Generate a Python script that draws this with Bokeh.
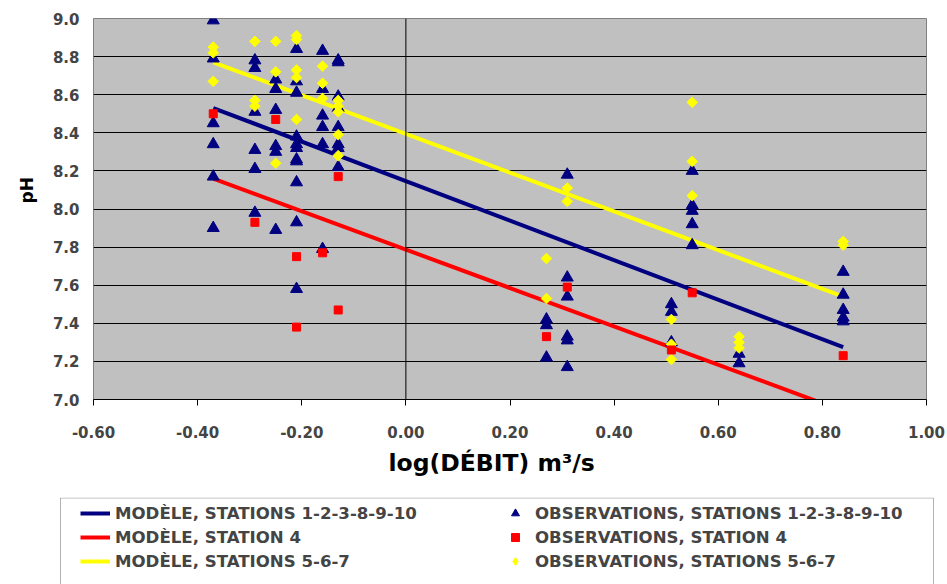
import numpy as np
from bokeh.plotting import figure
from bokeh.layouts import column
from bokeh.models import (FixedTicker, NumeralTickFormatter, Span, Legend, LegendItem,
                          BoxAnnotation, Range1d, Title)
from bokeh.embed import file_html
from bokeh.resources import INLINE

FONT = "DejaVu Sans"

# ---- axes ----
x_ticks = [-0.6, -0.4, -0.2, 0.0, 0.2, 0.4, 0.6, 0.8, 1.0]
y_ticks = [7.0, 7.2, 7.4, 7.6, 7.8, 8.0, 8.2, 8.4, 8.6, 8.8, 9.0]
x_title = "log(DÉBIT) m³/s"
y_title = "pH"

# ---- model lines (regressions) ----
model_x = [-0.37, 0.84]
model_s1_y = [8.53, 7.275]
model_s4_y = [8.16, 6.94]
model_s5_y = [8.77, 7.54]

# ---- observations, stations 1-2-3-8-9-10 (triangles) ----
obs1_x = ([-0.37] * 6 + [-0.29] * 6 + [-0.25] * 6 + [-0.21] * 11 + [-0.16] * 6
          + [-0.13] * 8 + [0.27] * 3 + [0.31] * 6 + [0.51] * 3 + [0.55] * 5
          + [0.64] * 2 + [0.84] * 5)
obs1_y = [8.99, 8.79, 8.45, 8.34, 8.17, 7.90,
          8.78, 8.74, 8.51, 8.31, 8.21, 7.98,
          8.68, 8.63, 8.52, 8.33, 8.30, 7.89,
          8.84, 8.67, 8.61, 8.38, 8.34, 8.32, 8.26, 8.25, 8.14, 7.93, 7.58,
          8.83, 8.63, 8.49, 8.43, 8.34, 7.79,
          8.78, 8.77, 8.59, 8.53, 8.43, 8.34, 8.32, 8.22,
          7.42, 7.39, 7.22,
          8.18, 7.64, 7.54, 7.33, 7.31, 7.17,
          7.50, 7.46, 7.30,
          8.20, 8.02, 7.99, 7.92, 7.81,
          7.24, 7.19,
          7.67, 7.55, 7.47, 7.43, 7.41]

# ---- observations, station 4 (squares) ----
obs4_x = [-0.37, -0.29, -0.25, -0.21, -0.21, -0.16, -0.13, -0.13, 0.27, 0.31, 0.51, 0.55, 0.84]
obs4_y = [8.50, 7.93, 8.47, 7.75, 7.38, 7.77, 8.17, 7.47, 7.33, 7.59, 7.26, 7.56, 7.23]

# ---- observations, stations 5-6-7 (diamonds) ----
obs5_x = ([-0.37] * 3 + [-0.29] * 3 + [-0.25] * 3 + [-0.21] * 5 + [-0.16] * 3
          + [-0.13] * 5 + [0.27] * 2 + [0.31] * 2 + [0.51] * 3 + [0.55] * 3
          + [0.64] * 3 + [0.84] * 2)
obs5_y = [8.85, 8.82, 8.67,
          8.88, 8.57, 8.54,
          8.88, 8.72, 8.24,
          8.91, 8.89, 8.73, 8.69, 8.47,
          8.75, 8.66, 8.58,
          8.57, 8.54, 8.51, 8.39, 8.28,
          7.74, 7.53,
          8.11, 8.04,
          7.42, 7.29, 7.21,
          8.56, 8.25, 8.07,
          7.33, 7.30, 7.27,
          7.83, 7.81]

labels_model = ["MODÈLE, STATIONS 1-2-3-8-9-10", "MODÈLE, STATION 4", "MODÈLE, STATIONS 5-6-7"]
labels_obs = ["OBSERVATIONS, STATIONS 1-2-3-8-9-10", "OBSERVATIONS, STATION 4", "OBSERVATIONS, STATIONS 5-6-7"]

NAVY = "#000080"
RED = "#FF0000"
YELLOW = "#FFFF00"

# ================= main chart =================
p = figure(width=947, height=497, x_range=(-0.6, 1.0), y_range=(7.0, 9.0),
           output_backend="svg", toolbar_location=None,
           min_border_left=93, min_border_right=21, min_border_top=18, min_border_bottom=98,
           background_fill_color="#C0C0C0", border_fill_color="white")
p.outline_line_color = "#808080"
p.outline_line_width = 1

p.xgrid.visible = False
p.ygrid.ticker = FixedTicker(ticks=y_ticks)
p.ygrid.grid_line_color = "black"
p.ygrid.grid_line_width = 1

xa = p.xaxis[0]
xa.ticker = FixedTicker(ticks=x_ticks)
xa.formatter = NumeralTickFormatter(format="0.00")
xa.axis_line_color = "black"
xa.major_tick_line_color = "black"
xa.major_tick_out = 6
xa.major_tick_in = 0
xa.minor_tick_line_color = None
xa.major_label_standoff = 20
xa.major_label_text_font = FONT
xa.major_label_text_font_style = "bold"
xa.major_label_text_font_size = "15px"

p.add_layout(Title(text=x_title, align="left", offset=295, standoff=13,
                   text_font=FONT, text_font_style="bold", text_font_size="23.5px",
                   text_color="black"), "below")

ya = p.yaxis[0]
ya.ticker = FixedTicker(ticks=y_ticks)
ya.formatter = NumeralTickFormatter(format="0.0")
ya.axis_line_color = None
ya.major_tick_line_color = None
ya.major_tick_out = 0
ya.major_tick_in = 0
ya.minor_tick_line_color = None
ya.major_label_standoff = 14
ya.major_label_text_font = FONT
ya.major_label_text_font_style = "bold"
ya.major_label_text_font_size = "15px"

p.add_layout(Title(text=y_title, align="left", offset=196, standoff=26,
                   text_font=FONT, text_font_style="bold", text_font_size="17px",
                   text_color="black"), "left")

p.add_layout(Span(location=0, dimension="height", line_color="black", line_width=1))

p.line(model_x, model_s1_y, line_color=NAVY, line_width=4)
p.line(model_x, model_s4_y, line_color=RED, line_width=4)
p.line(model_x, model_s5_y, line_color=YELLOW, line_width=4)

p.scatter(obs1_x, obs1_y, marker="triangle", size=12, fill_color=NAVY, line_color=NAVY)
p.scatter(obs5_x, obs5_y, marker="square", angle=np.pi / 4, size=7.5,
          fill_color=YELLOW, line_color=YELLOW)
p.scatter(obs4_x, obs4_y, marker="square", size=8, fill_color=RED, line_color=RED)

# ================= legend panel =================
# the series are re-drawn here only as legend proxies, outside this panel's visible range
p2 = figure(width=947, height=87, output_backend="svg", toolbar_location=None,
            x_range=Range1d(0, 1), y_range=Range1d(0, 1),
            x_axis_location=None, y_axis_location=None, min_border=0,
            min_border_left=0, min_border_right=0, min_border_top=0, min_border_bottom=0,
            background_fill_color="white", border_fill_color="white")
if "frame_align" in p2.properties():
    p2.frame_align = False
p2.outline_line_color = None
p2.grid.visible = False

g1 = p2.line(model_x, model_s1_y, line_color=NAVY, line_width=4)
g4 = p2.line(model_x, model_s4_y, line_color=RED, line_width=4)
g5 = p2.line(model_x, model_s5_y, line_color=YELLOW, line_width=4)
h1 = p2.scatter(obs1_x, obs1_y, marker="triangle", size=9, fill_color=NAVY, line_color=NAVY)
h4 = p2.scatter(obs4_x, obs4_y, marker="square", size=7, fill_color=RED, line_color=RED)
h5 = p2.scatter(obs5_x, obs5_y, marker="diamond", size=11,
                fill_color=YELLOW, line_color=YELLOW)

p2.add_layout(BoxAnnotation(left=60, right=933, top=86.5, bottom=-20,
                            left_units="screen", right_units="screen",
                            top_units="screen", bottom_units="screen",
                            fill_color="white", fill_alpha=0.0,
                            line_color="black", line_width=1))

common = dict(orientation="vertical", padding=0, spacing=4, margin=0,
              glyph_width=30, glyph_height=20, label_height=20, label_standoff=5,
              border_line_color=None, background_fill_alpha=0.0,
              label_text_font=FONT, label_text_font_style="bold", label_text_font_size="16.6px")

legA = Legend(items=[LegendItem(label=labels_model[0], renderers=[g1]),
                     LegendItem(label=labels_model[1], renderers=[g4]),
                     LegendItem(label=labels_model[2], renderers=[g5])],
              location=(80, 13), **common)
legB = Legend(items=[LegendItem(label=labels_obs[0], renderers=[h1]),
                     LegendItem(label=labels_obs[1], renderers=[h4]),
                     LegendItem(label=labels_obs[2], renderers=[h5])],
              location=(500, 13), **common)
p2.add_layout(legA)
p2.add_layout(legB)

layout = column(p, p2, spacing=0)
open("out.html", "w").write(file_html(layout, INLINE))
